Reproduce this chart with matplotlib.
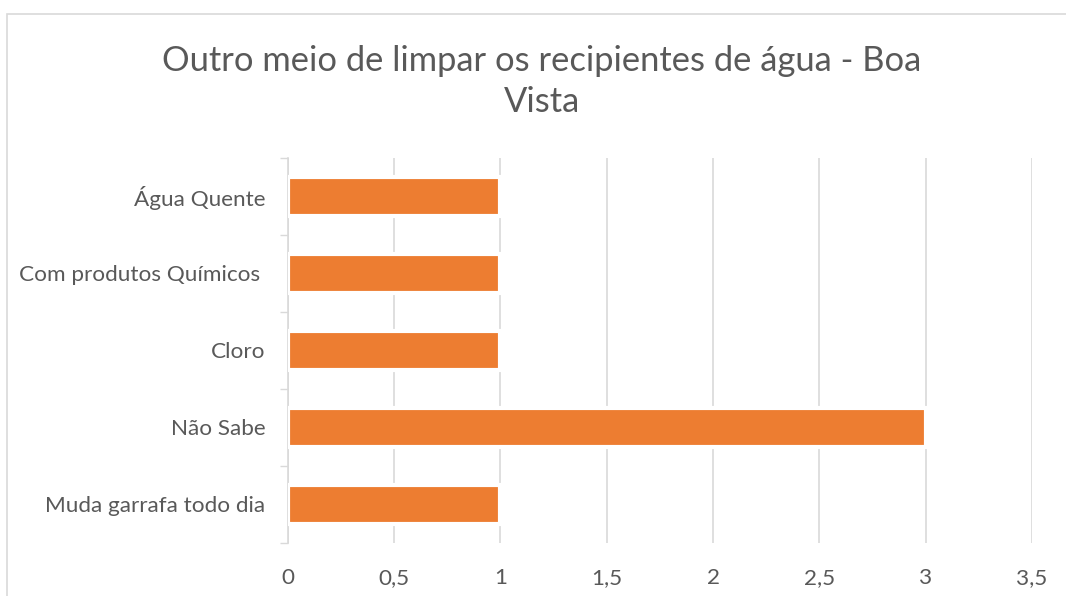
import numpy as np
import matplotlib.pyplot as plt
from matplotlib.ticker import FuncFormatter, FixedLocator
from matplotlib.patches import Rectangle

# data (top to bottom as shown)
categorias = ['Água Quente', 'Com produtos Químicos ', 'Cloro', 'Não Sabe', 'Muda garrafa todo dia']
valores = [1, 1, 1, 3, 1]
titulo = 'Outro meio de limpar os recipientes de água - Boa\nVista'

plt.rcParams['font.family'] = ['Lato', 'DejaVu Sans']
cinza = '#595959'
linha = '#D9D9D9'

fig = plt.figure(figsize=(10.66, 5.96), dpi=100)
ax = fig.add_axes([0.270, 0.089, 0.698, 0.646])

y = np.arange(len(categorias))
ax.barh(y, valores, height=0.5, color='#ED7D31', edgecolor='white', linewidth=3, zorder=3)

ax.set_ylim(len(categorias) - 0.5, -0.5)
ax.set_xlim(0, 3.5)
ax.set_xticks(np.arange(0, 3.51, 0.5))
ax.xaxis.set_major_formatter(FuncFormatter(lambda v, p: ('%g' % v).replace('.', ',')))
ax.set_yticks(y)
ax.set_yticklabels(categorias)
ax.yaxis.set_minor_locator(FixedLocator(np.arange(-0.5, len(categorias), 1)))

ax.tick_params(axis='y', which='major', length=0, pad=16, labelsize=16.2, labelcolor=cinza)
ax.tick_params(axis='y', which='minor', length=6, color=linha, width=1)
ax.tick_params(axis='x', length=0, pad=18, labelsize=16.2, labelcolor=cinza)

ax.grid(axis='x', color=linha, linewidth=1.2, zorder=0)
ax.set_axisbelow(True)
for s in ['top', 'right', 'bottom']:
    ax.spines[s].set_visible(False)
ax.spines['left'].set_color(linha)
ax.spines['left'].set_linewidth(1.2)

fig.text(0.508, 0.864, titulo, ha='center', va='center', fontsize=24.8,
         color=cinza, linespacing=1.35)

# chart border (partly cropped in the reference)
fig.patches.append(Rectangle((7 / 1066, -0.1), 1.2, 1.1 - 14 / 596, transform=fig.transFigure,
                             fill=False, edgecolor=linha, linewidth=1.2))

plt.savefig('out.png', dpi=100)
